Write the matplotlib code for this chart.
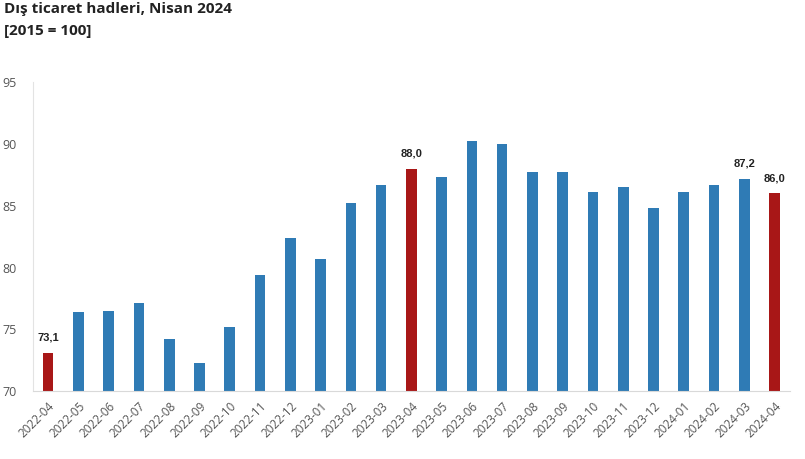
import matplotlib
matplotlib.use("Agg")
import matplotlib.pyplot as plt

# Aylar ve dış ticaret hadleri endeksi (2015=100)
aylar = ["2022-04", "2022-05", "2022-06", "2022-07", "2022-08", "2022-09",
         "2022-10", "2022-11", "2022-12", "2023-01", "2023-02", "2023-03",
         "2023-04", "2023-05", "2023-06", "2023-07", "2023-08", "2023-09",
         "2023-10", "2023-11", "2023-12", "2024-01", "2024-02", "2024-03",
         "2024-04"]
degerler = [73.1, 76.4, 76.5, 77.1, 74.2, 72.3, 75.2, 79.4, 82.4, 80.7,
            85.2, 86.7, 88.0, 87.3, 90.2, 90.0, 87.7, 87.7, 86.1, 86.5,
            84.8, 86.1, 86.7, 87.2, 86.0]
vurgulu = ["2022-04", "2023-04", "2024-04"]  # kırmızı çubuklar
etiketli = ["2022-04", "2023-04", "2024-03", "2024-04"]  # değer yazılanlar

MAVI = "#2f7bb5"
KIRMIZI = "#a81717"

fig = plt.figure(figsize=(8.05, 4.59), dpi=100)
ax = fig.add_axes([0.041, 0.148, 0.94, 0.673])

renkler = [KIRMIZI if a in vurgulu else MAVI for a in aylar]
x = list(range(len(aylar)))
ax.bar(x, [d - 70 for d in degerler], bottom=70, width=0.35, color=renkler)

for i, (a, d) in enumerate(zip(aylar, degerler)):
    if a in etiketli:
        ax.text(i, d + 0.8, f"{d:.1f}".replace(".", ","), ha="center",
                va="bottom", fontsize=8, fontweight="bold",
                family="Liberation Sans", color="#222222")

ax.set_xlim(-0.5, len(aylar) - 0.5)
ax.set_ylim(70, 95)
ax.set_yticks([70, 75, 80, 85, 90, 95])
ax.set_xticks(x)
ax.set_xticklabels(aylar, rotation=45, ha="right", rotation_mode="anchor",
                   fontsize=8.5, color="#555555", family="Open Sans")
for lbl in ax.get_yticklabels():
    lbl.set_fontsize(9)
    lbl.set_color("#555555")
    lbl.set_family("Open Sans")

ax.tick_params(axis="both", length=0, pad=6)
ax.tick_params(axis="y", pad=12)
for s in ["top", "right"]:
    ax.spines[s].set_visible(False)
ax.spines["left"].set_color("#e3e3e3")
ax.spines["bottom"].set_color("#d9d9d9")

fig.text(0.005, 0.995, "Dış ticaret hadleri, Nisan 2024", fontsize=11,
         fontweight="bold", family="Open Sans", color="#222222", va="top")
fig.text(0.005, 0.948, "[2015 = 100]", fontsize=11, fontweight="bold",
         family="Open Sans", color="#222222", va="top")

fig.savefig("out.png", dpi=100)
